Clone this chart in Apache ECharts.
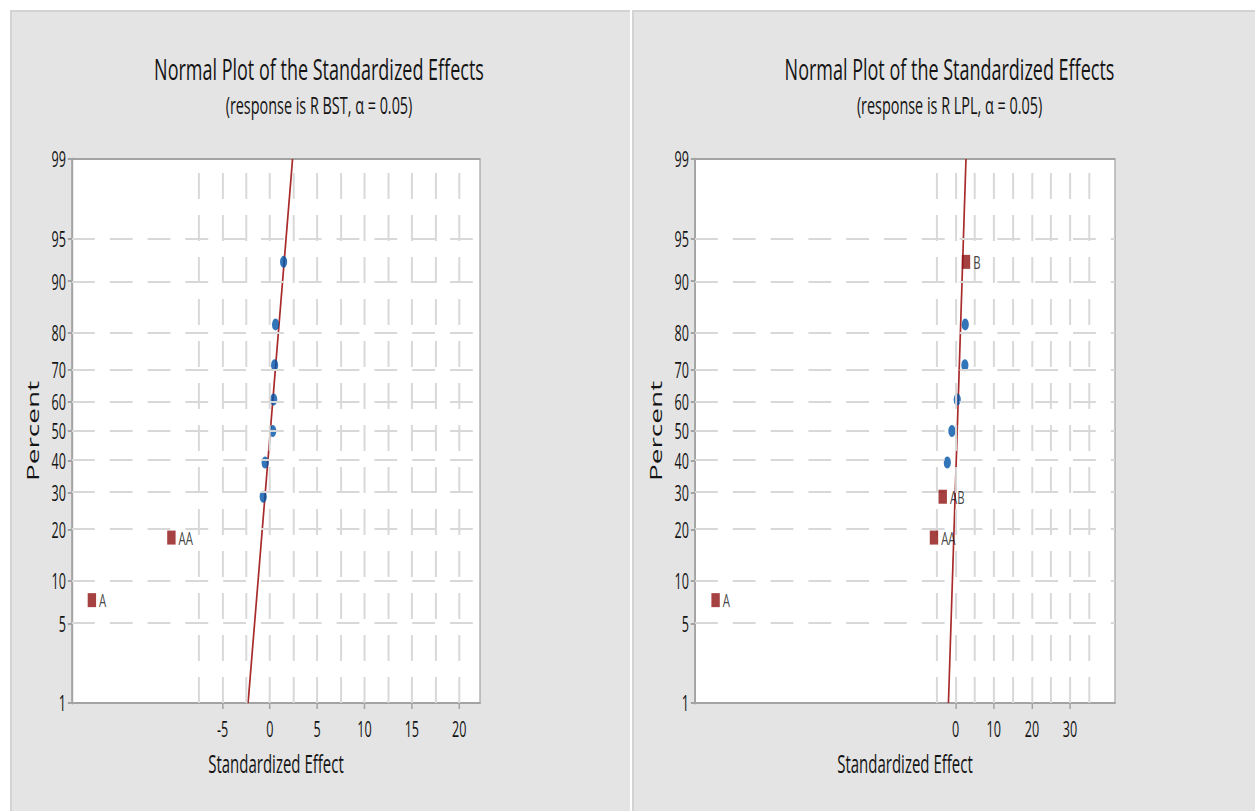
<!DOCTYPE html>
<html><head><meta charset="utf-8">
<script src="https://cdn.jsdelivr.net/npm/echarts@6/dist/echarts.min.js"></script>
<style>
html,body{margin:0;padding:0;overflow:hidden;background:#fff;}
#wrap{width:1255px;height:811px;overflow:hidden;position:relative;background:#fff;}
.panel{position:absolute;top:10px;height:801px;background:#e4e4e4;border-top:2px solid #d3d3d3;border-left:2px solid #d3d3d3;box-sizing:border-box;}
#chart{position:absolute;left:0;top:0;width:2091.667px;height:811px;transform:scaleX(0.6);transform-origin:0 0;}
</style></head><body>
<div id="wrap">
  <div class="panel" style="left:10px;width:620px;"></div>
  <div class="panel" style="left:632px;width:623px;"></div>
  <div id="chart"></div>
</div>
<script>
// ---------- data ----------
const percentTicks = [1, 5, 10, 20, 30, 40, 50, 60, 70, 80, 90, 95, 99];
const gridPercents = [5, 10, 20, 30, 40, 50, 60, 70, 80, 90, 95];

// Panel 1: response R BST
const bstTerms   = ['A', 'AA', '', '', '', '', '', '', ''];
const bstEffects = [-18.8, -10.4, -0.7, -0.5, 0.3, 0.4, 0.5, 0.6, 1.45];
const bstPercent = [7.4, 18.1, 28.7, 39.4, 50, 60.6, 71.3, 81.9, 92.6];
const bstLineEffects = [-2.3, 2.4];
const bstLinePercent = [1, 99];
const bstXTicks = [-5, 0, 5, 10, 15, 20];
const bstXGrid = [-7.5, -5, -2.5, 0, 2.5, 5, 7.5, 10, 12.5, 15, 17.5, 20];
const bstXRange = [-20.9, 22.2];

// Panel 2: response R LPL
const lplTerms   = ['A', 'AA', 'AB', '', '', '', '', '', 'B'];
const lplEffects = [-63, -5.7, -3.4, -2.2, -1.0, 0.4, 2.4, 2.5, 2.7];
const lplPercent = [7.4, 18.1, 28.7, 39.4, 50, 60.6, 71.3, 81.9, 92.6];
const lplLineEffects = [-1.9, 2.7];
const lplLinePercent = [1, 99];
const lplXTicks = [0, 10, 20, 30];
const lplXGrid = [-5, 0, 5, 10, 15, 20, 25, 30, 35];
const lplXRange = [-68.4, 41.8];

const titles = ['Normal Plot of the Standardized Effects', 'Normal Plot of the Standardized Effects'];
const subtitles = ['(response is R BST, α = 0.05)', '(response is R LPL, α = 0.05)'];

// ---------- normal probability scale ----------
function probit(p) {
  const a=[-3.969683028665376e+01,2.209460984245205e+02,-2.759285104469687e+02,1.383577518672690e+02,-3.066479806614716e+01,2.506628277459239e+00];
  const b=[-5.447609879822406e+01,1.615858368580409e+02,-1.556989798598866e+02,6.680131188771972e+01,-1.328068155288572e+01];
  const c=[-7.784894002430293e-03,-3.223964580411365e-01,-2.400758277161838e+00,-2.549732539343734e+00,4.374664141464968e+00,2.938163982698783e+00];
  const d=[7.784695709041462e-03,3.224671290700398e-01,2.445134137142996e+00,3.754408661907416e+00];
  const pl=0.02425, ph=1-pl; let q, r;
  if (p < pl) { q=Math.sqrt(-2*Math.log(p)); return (((((c[0]*q+c[1])*q+c[2])*q+c[3])*q+c[4])*q+c[5])/((((d[0]*q+d[1])*q+d[2])*q+d[3])*q+1); }
  if (p <= ph) { q=p-0.5; r=q*q; return (((((a[0]*r+a[1])*r+a[2])*r+a[3])*r+a[4])*r+a[5])*q/(((((b[0]*r+b[1])*r+b[2])*r+b[3])*r+b[4])*r+1); }
  q=Math.sqrt(-2*Math.log(1-p)); return -(((((c[0]*q+c[1])*q+c[2])*q+c[3])*q+c[4])*q+c[5])/((((d[0]*q+d[1])*q+d[2])*q+d[3])*q+1);
}
const Z = pct => probit(pct / 100);
const zTicks = percentTicks.map(Z);
const zMin = Z(1), zMax = Z(99);
function pctLabel(v) {
  let best = percentTicks[0], bd = Infinity;
  percentTicks.forEach((p, i) => { const dd = Math.abs(zTicks[i] - v); if (dd < bd) { bd = dd; best = p; } });
  return String(best);
}

// ---------- layout (in the unsquished drawing frame) ----------
const S = 0.6;
const FONT = '"Open Sans", "Liberation Sans", sans-serif';
const TXT = '#141414';
const AXC = '#a3a3a3';
const GRIDC = '#d8d8d8';

const panels = [
  { terms: bstTerms, eff: bstEffects, pct: bstPercent, le: bstLineEffects, lp: bstLinePercent,
    ticks: bstXTicks, xgrid: bstXGrid, range: bstXRange, left: 72 / S, width: (480 - 72) / S, cx: 319 / S },
  { terms: lplTerms, eff: lplEffects, pct: lplPercent, le: lplLineEffects, lp: lplLinePercent,
    ticks: lplXTicks, xgrid: lplXGrid, range: lplXRange, left: 695 / S, width: (1115 - 695) / S, cx: 949.5 / S }
];

const grid = [], xAxis = [], yAxis = [], series = [], graphic = [];
panels.forEach((P, i) => {
  grid.push({ left: P.left, top: 159, width: P.width, height: 544, show: true,
    backgroundColor: '#ffffff', borderColor: AXC, borderWidth: 2 });
  xAxis.push({
    gridIndex: i, type: 'value', min: P.range[0], max: P.range[1],
    axisLine: { show: true, onZero: false, lineStyle: { color: AXC, width: 2 } },
    axisTick: { show: true, customValues: P.ticks, length: 6, lineStyle: { color: AXC, width: 2.5 } },
    axisLabel: { customValues: P.ticks, fontSize: 21, color: TXT, margin: 15, fontFamily: FONT },
    splitLine: { show: false },
    name: 'Standardized Effect', nameLocation: 'middle', nameGap: 48,
    nameTextStyle: { fontSize: 25, color: TXT, fontFamily: FONT }
  });
  yAxis.push({
    gridIndex: i, type: 'value', min: zMin, max: zMax,
    axisLine: { show: true, onZero: false, lineStyle: { color: AXC, width: 3 } },
    axisTick: { show: true, customValues: zTicks, length: 7, lineStyle: { color: AXC, width: 2 } },
    axisLabel: { customValues: zTicks, formatter: pctLabel, fontSize: 21, color: TXT, margin: 10, fontFamily: FONT },
    splitLine: { show: false },
    name: 'Percent', nameLocation: 'middle', nameRotate: 90, nameGap: 52,
    nameTextStyle: { fontSize: 28, color: TXT, fontFamily: FONT }
  });
  // vertical grid lines
  series.push({ type: 'line', xAxisIndex: i, yAxisIndex: i, data: [], z: 1, silent: true,
    markLine: { silent: true, symbol: ['none', 'none'], label: { show: false }, animation: false,
      lineStyle: { color: GRIDC, width: 3.3, type: [26, 16] },
      emphasis: { disabled: true },
      data: P.xgrid.map(v => ({ xAxis: v })) } });
  // horizontal grid lines
  series.push({ type: 'line', xAxisIndex: i, yAxisIndex: i, data: [], z: 1, silent: true,
    markLine: { silent: true, symbol: ['none', 'none'], label: { show: false }, animation: false,
      lineStyle: { color: GRIDC, width: 2, type: [38, 25] },
      emphasis: { disabled: true },
      data: gridPercents.map(p => ({ yAxis: Z(p) })) } });
  // reference line
  series.push({ type: 'line', xAxisIndex: i, yAxisIndex: i, z: 3, silent: true, showSymbol: false, symbol: 'none',
    lineStyle: { color: '#a82a2a', width: 2.8 },
    data: P.le.map((e, k) => [e, Z(P.lp[k])]) });
  // effects
  const blue = [], red = [];
  P.eff.forEach((e, k) => {
    if (P.terms[k]) red.push({ value: [e, Z(P.pct[k])], name: P.terms[k] });
    else blue.push([e, Z(P.pct[k])]);
  });
  series.push({ type: 'scatter', xAxisIndex: i, yAxisIndex: i, z: 4, symbol: 'circle', symbolSize: [12, 12],
    itemStyle: { color: '#0052a8' }, data: blue });
  series.push({ type: 'scatter', xAxisIndex: i, yAxisIndex: i, z: 5, symbol: 'rect', symbolSize: [14, 14],
    itemStyle: { color: '#8e1212' },
    label: { show: true, position: 'right', distance: 5, formatter: p => p.name, fontSize: 19, color: '#111', fontFamily: FONT },
    data: red });
  graphic.push({ type: 'text', x: P.cx, y: 68, silent: true,
    style: { text: titles[i], font: '30px ' + FONT, fill: TXT, textAlign: 'center', textVerticalAlign: 'middle' } });
  graphic.push({ type: 'text', x: P.cx, y: 105, silent: true,
    style: { text: subtitles[i], font: '24px ' + FONT, fill: TXT, textAlign: 'center', textVerticalAlign: 'middle' } });
});

const chart = echarts.init(document.getElementById('chart'), null, { renderer: 'svg', width: 1255 / S, height: 811 });
chart.setOption({
  animation: false,
  backgroundColor: 'transparent',
  grid, xAxis, yAxis, series, graphic,
  tooltip: { show: false }
});
</script>
</body></html>
